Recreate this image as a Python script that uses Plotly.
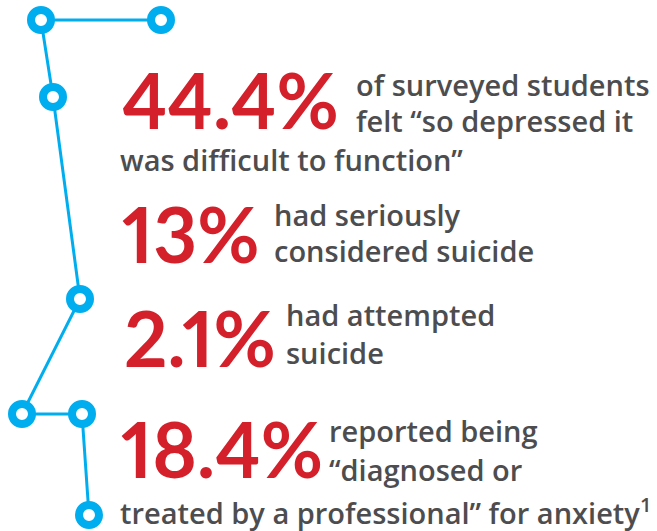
import plotly.graph_objects as go

# Data
values = [44.4, 13, 2.1, 18.4]
value_labels = ["44.4%", "13%", "2.1%", "18.4%"]
desc_lines = [
    ["of surveyed students", "felt “so depressed it"],
    ["had seriously", "considered suicide"],
    ["had attempted", "suicide"],
    ["reported being", "“diagnosed or"],
]
wrap_lines = ["was difficult to function”", "", "", "treated by a professional” for anxiety<sup>1</sup>"]

# decorative connector path (pixel space)
path_x = [161, 41, 53, 80, 22, 82, 89]
path_y = [20, 20, 97, 299, 414, 414, 515]

RED = "#D3202A"
GRAY = "#4D4D4F"
BLUE = "#00AEEF"

# layout positions (baselines)
num_x = [121, 121, 123, 120]
num_base = [128, 262, 366, 477]
desc_x = [355, 273, 285, 328]
desc_base = [[97, 133], [227, 263], [327, 365], [443, 482]]
wrap_base = [172, None, None, 525]

fig = go.Figure()
fig.add_trace(go.Scatter(
    x=path_x, y=path_y, mode="lines+markers",
    line=dict(color=BLUE, width=3),
    marker=dict(size=20, color="white", line=dict(color=BLUE, width=8)),
    hoverinfo="skip", showlegend=False,
))

NUM_SIZE = 76
TXT_SIZE = 29

def add_text(x, base, text, size, color, weight, family, desc):
    fig.add_annotation(
        x=x, y=base, xref="x", yref="y", text=text, showarrow=False,
        xanchor="left", yanchor="bottom", align="left",
        yshift=-desc * size,
        font=dict(family=family, size=size, color=color, weight=weight),
        borderpad=0,
    )

for i, v in enumerate(values):
    lbl = '<span style="font-variant-numeric:proportional-nums">' + value_labels[i] + '</span>'
    add_text(num_x[i], num_base[i], lbl, NUM_SIZE, RED, 700, "Lato", 0.24)
    for j, line in enumerate(desc_lines[i]):
        add_text(desc_x[i], desc_base[i][j], line, TXT_SIZE, GRAY, 600, "Open Sans", 0.29)
    if wrap_lines[i]:
        add_text(119, wrap_base[i], wrap_lines[i], TXT_SIZE, GRAY, 600, "Open Sans", 0.29)

fig.update_xaxes(range=[0, 657], visible=False, fixedrange=True)
fig.update_yaxes(range=[531, 0], visible=False, fixedrange=True)
fig.update_layout(
    width=657, height=531, margin=dict(l=0, r=0, t=0, b=0),
    plot_bgcolor="white", paper_bgcolor="white",
)
fig.write_html("out.html", config={"displayModeBar": False},
               post_script="document.body.style.margin='0';document.body.style.overflow='hidden';")
